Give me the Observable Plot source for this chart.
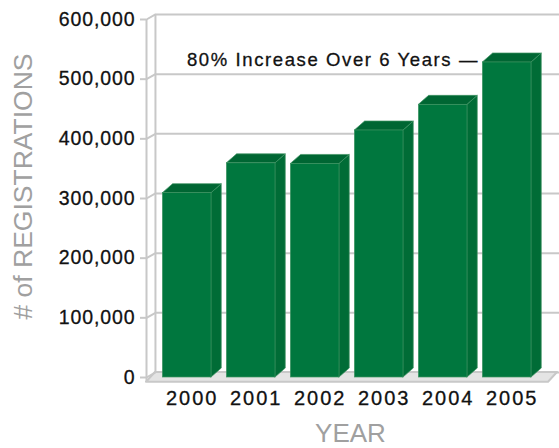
<!DOCTYPE html>
<html><head><meta charset="utf-8">
<script src="https://cdn.jsdelivr.net/npm/d3@7"></script>
<script src="https://cdn.jsdelivr.net/npm/@observablehq/plot@0.6"></script>
<style>
body{margin:0;background:#fff;}
#chart svg{display:block;}
g[aria-label="y-axis tick label"] text{letter-spacing:0.9px;stroke:#111;stroke-width:0.3px}
g[aria-label="x-axis tick label"] text{letter-spacing:2px;stroke:#111;stroke-width:0.3px}
g[aria-description="annotation"] text{letter-spacing:1.6px;stroke:#111;stroke-width:0.3px}
</style></head><body><div id="chart"></div>
<script>
const years = [2000, 2001, 2002, 2003, 2004, 2005];
const registrations = [309000, 359000, 358000, 414000, 457000, 528000];
const yTicks = [0, 100000, 200000, 300000, 400000, 500000, 600000];
const annotation = "80% Increase Over 6 Years —";
const yLabel = "# of REGISTRATIONS";
const xLabel = "YEAR";

const halfWidth = 0.38;
const depthX = 0.16, depthY = 15000;
const wallX = 0.14, wallY = 8400;
const xDomain = [1999.364, 2005.786];
const floorFront = -8000;

const bars = years.map((year, i) => ({i, year, value: registrations[i], x1: year - halfWidth, x2: year + halfWidth}));
const sides = bars.flatMap(b => [
  {i: b.i, x: b.x2, y1: 0, y2: b.value},
  {i: b.i, x: b.x2 + depthX, y1: depthY, y2: b.value + depthY}
]);
const tops = bars.flatMap(b => [
  {i: b.i, y: b.value, x1: b.x1, x2: b.x2},
  {i: b.i, y: b.value + depthY, x1: b.x1 + depthX, x2: b.x2 + depthX}
]);
const floor = [
  {y: floorFront, x1: xDomain[0], x2: xDomain[1] - wallX},
  {y: wallY, x1: xDomain[0] + wallX, x2: xDomain[1]}
];
const grid = "#c8c8c8";
const font = "Liberation Sans, Arial, Helvetica, sans-serif";

const chart = Plot.plot({
  width: 559, height: 448,
  marginLeft: 146, marginRight: 2, marginTop: 19, marginBottom: 71,
  style: {fontFamily: font, background: "#fff", overflow: "hidden"},
  x: {type: "linear", domain: xDomain, label: null},
  y: {domain: [0, 600000], label: null},
  marks: [
    Plot.ruleY(yTicks, {y: d => d + wallY, x1: xDomain[0] + wallX, x2: xDomain[1] + 1, stroke: grid, strokeWidth: 2}),
    Plot.ruleX([xDomain[0] + wallX], {y1: wallY, y2: 600000 + wallY, stroke: grid, strokeWidth: 2}),
    Plot.areaX(floor, {y: "y", x1: "x1", x2: "x2", fill: "#e4e4e4", stroke: grid, strokeWidth: 2}),
    Plot.ruleX([xDomain[0]], {y1: floorFront, y2: 600000, stroke: grid, strokeWidth: 2}),
    Plot.link(yTicks, {x1: xDomain[0], x2: xDomain[0] + wallX, y1: d => d, y2: d => d + wallY, stroke: grid, strokeWidth: 2}),
    Plot.axisY(yTicks, {anchor: "left", tickSize: 6, tickPadding: 5, tickFormat: d3.format(","), stroke: grid, strokeWidth: 2, fill: "#111", fontSize: 19.5, fontFamily: font}),
    Plot.areaY(sides, {x: "x", y1: "y1", y2: "y2", z: "i", fill: "#006c36", stroke: "#3f9463", strokeWidth: 0.7}),
    Plot.areaX(tops, {y: "y", x1: "x1", x2: "x2", z: "i", fill: "#006633", stroke: "#3f9463", strokeWidth: 0.7}),
    Plot.rect(bars, {x1: "x1", x2: "x2", y1: 0, y2: "value", fill: "#00773e", stroke: "#3f9463", strokeWidth: 0.7}),
    Plot.axisX(years, {anchor: "bottom", tickSize: 0, tickPadding: 13, tickFormat: d => String(d), dx: 5, fill: "#111", fontSize: 20, fontFamily: font}),
    Plot.text([yLabel], {text: d => d, frameAnchor: "left", textAnchor: "middle", lineAnchor: "middle", rotate: -90, dx: -123, dy: -12, fontSize: 26.5, fill: "#a0a0a0", fontFamily: font}),
    Plot.text([xLabel], {text: d => d, frameAnchor: "bottom", textAnchor: "middle", lineAnchor: "middle", dx: -1.5, dy: 56.5, fontSize: 26, fill: "#a0a0a0", fontFamily: font}),
    Plot.text([annotation], {text: d => d, x: years[5] - halfWidth - 0.06, y: registrations[5] + 3500, textAnchor: "end", fontSize: 18.5, fill: "#111", fontFamily: font, ariaDescription: "annotation"})
  ]
});
document.getElementById("chart").appendChild(chart);
</script></body></html>
